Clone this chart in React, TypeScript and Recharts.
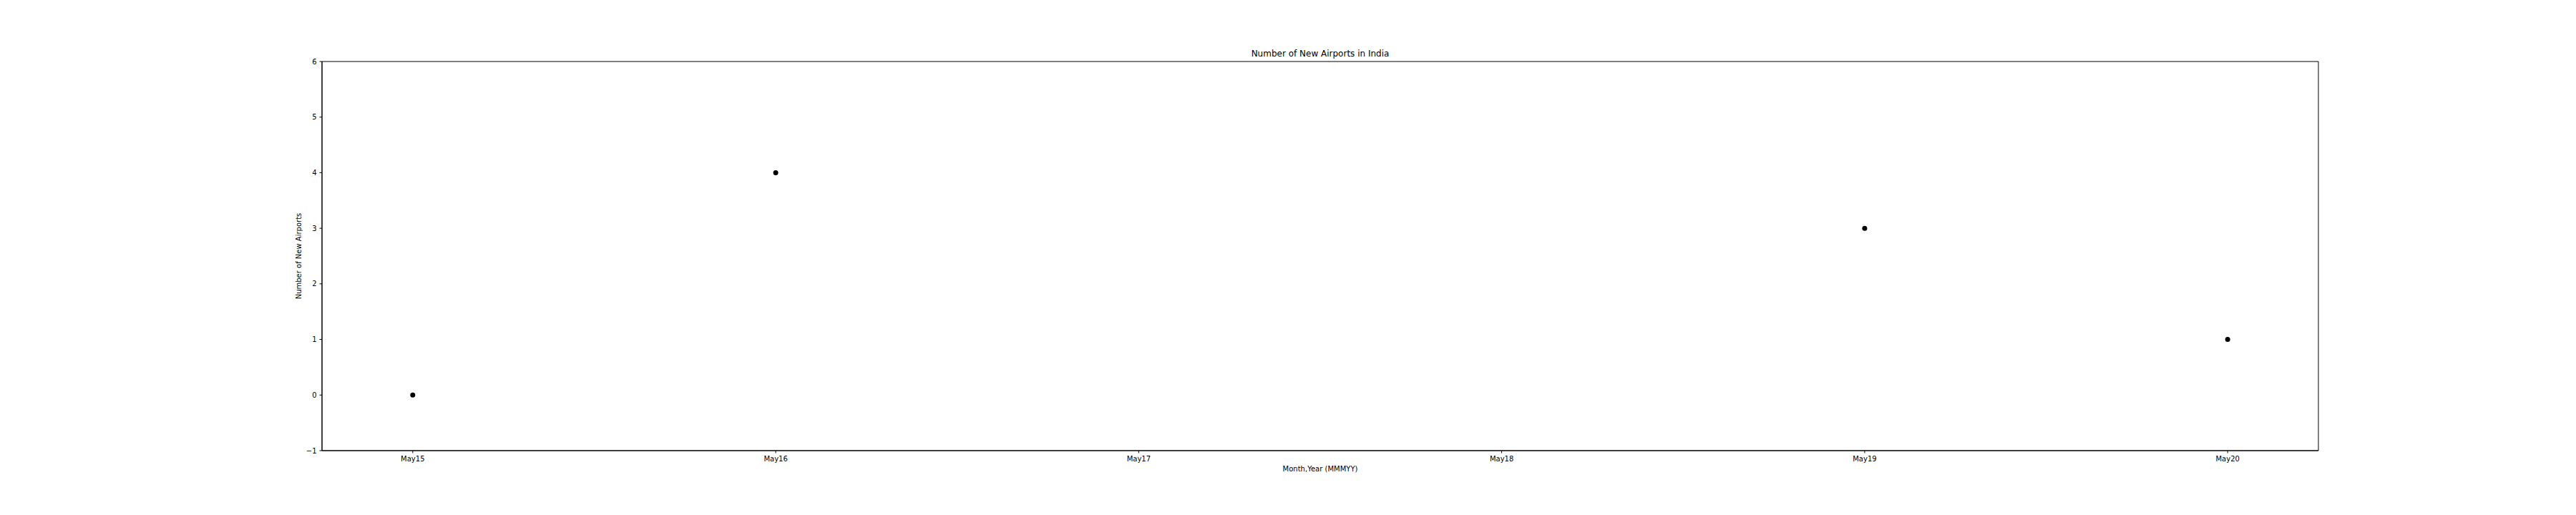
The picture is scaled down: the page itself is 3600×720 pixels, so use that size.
import React from "react";
import {
  ScatterChart,
  Scatter,
  XAxis,
  YAxis,
  ReferenceArea,
} from "recharts";

const months = ["May15", "May16", "May17", "May18", "May19", "May20"];
const newAirports: (number | null)[] = [0, 4, null, null, 3, 1];
const yTicks = [-1, 0, 1, 2, 3, 4, 5, 6];

const points = months
  .map((m, i) => ({ idx: i, month: m, value: newAirports[i] }))
  .filter((p) => p.value !== null);

const font = "'DejaVu Sans', sans-serif";
const tickStyle = { fontSize: 10, fill: "#000", fontFamily: font };

const App = () => {
  return (
    <div style={{ position: "relative", width: 3584, height: 704, fontFamily: font }}>
      <div
        style={{
          position: "absolute",
          left: 442,
          width: 2790,
          top: 60,
          textAlign: "center",
          fontSize: 12,
          lineHeight: "14px",
          color: "#000",
        }}
      >
        Number of New Airports in India
      </div>
      <ScatterChart
        width={3584}
        height={704}
        margin={{ top: 78, right: 352, bottom: 42, left: 382 }}
      >
        <XAxis
          type="number"
          dataKey="idx"
          domain={[-0.25, 5.25]}
          ticks={months.map((_, i) => i)}
          tickFormatter={(v: number) => months[v] ?? ""}
          height={40}
          tick={tickStyle}
          tickSize={3.5}
          tickMargin={4}
          stroke="#000"
          allowDataOverflow
          label={{
            value: "Month,Year (MMMYY)",
            position: "insideBottom",
            offset: 11,
            style: { fontSize: 10, fill: "#000", fontFamily: font },
          }}
        />
        <YAxis
          type="number"
          dataKey="value"
          domain={[-1, 6]}
          ticks={yTicks}
          tickFormatter={(v: number) => (v < 0 ? `\u2212${-v}` : `${v}`)}
          width={60}
          tick={tickStyle}
          tickSize={3.5}
          tickMargin={4}
          stroke="#000"
          allowDataOverflow
          label={{
            value: "Number of New Airports",
            angle: -90,
            position: "insideLeft",
            offset: 27,
            style: { fontSize: 10, fill: "#000", fontFamily: font, textAnchor: "middle" },
          }}
        />
        <ReferenceArea
          x1={-0.25}
          x2={5.25}
          y1={-1}
          y2={6}
          fill="none"
          stroke="#000"
          strokeWidth={1}
          ifOverflow="visible"
        />
        <Scatter
          data={points}
          isAnimationActive={false}
          shape={(p: any) => <circle cx={p.cx} cy={p.cy} r={3.5} fill="#000" />}
        />
      </ScatterChart>
    </div>
  );
};

export default App;
